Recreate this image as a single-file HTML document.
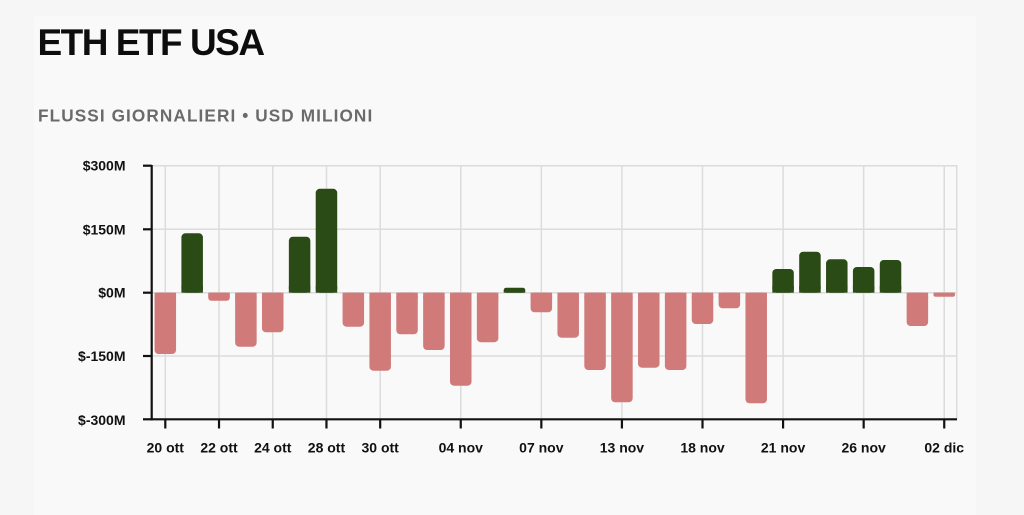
<!DOCTYPE html>
<html><head><meta charset="utf-8">
<style>
html,body{margin:0;padding:0;background:#f6f6f6;}
body{width:1024px;height:515px;overflow:hidden;position:relative;font-family:"Liberation Sans",Arial,sans-serif;}
.card{position:absolute;left:34px;top:16px;width:942px;height:499px;background:#f9f9f9;}
svg{position:absolute;left:0;top:0;}
</style></head>
<body>
<div class="card"></div>
<svg width="1024" height="515" viewBox="0 0 1024 515" xmlns="http://www.w3.org/2000/svg" font-family="Liberation Sans, Arial, sans-serif">
  <text x="37.5" y="55" font-size="37" font-weight="bold" fill="#0d0d0d" letter-spacing="-1.5">ETH ETF USA</text>
  <text x="38" y="121.7" font-size="17.2" font-weight="bold" fill="#6a6a6a" letter-spacing="1.1">FLUSSI GIORNALIERI • USD MILIONI</text>

  <!-- gridlines -->
  <g stroke="#dcdcdc" stroke-width="1.5">
    <line x1="152" y1="165.7" x2="957" y2="165.7"/>
    <line x1="152" y1="229.3" x2="957" y2="229.3"/>
    <line x1="152" y1="292.7" x2="957" y2="292.7"/>
    <line x1="152" y1="356" x2="957" y2="356"/>
    <line x1="165.3" y1="165" x2="165.3" y2="419"/>
    <line x1="219.02" y1="165" x2="219.02" y2="419"/>
    <line x1="272.74" y1="165" x2="272.74" y2="419"/>
    <line x1="326.46" y1="165" x2="326.46" y2="419"/>
    <line x1="380.18" y1="165" x2="380.18" y2="419"/>
    <line x1="460.76" y1="165" x2="460.76" y2="419"/>
    <line x1="541.34" y1="165" x2="541.34" y2="419"/>
    <line x1="621.92" y1="165" x2="621.92" y2="419"/>
    <line x1="702.5" y1="165" x2="702.5" y2="419"/>
    <line x1="783.08" y1="165" x2="783.08" y2="419"/>
    <line x1="863.66" y1="165" x2="863.66" y2="419"/>
    <line x1="944.24" y1="165" x2="944.24" y2="419"/>
    <line x1="956.7" y1="165" x2="956.7" y2="419"/>
  </g>

  <!-- positive bars -->
  <g fill="#2a4a16">
    <rect x="181.41" y="233.3" width="21.5" height="59.4" rx="4"/><rect x="181.41" y="286" width="21.5" height="6.7"/>
    <rect x="288.85" y="236.7" width="21.5" height="56" rx="4"/><rect x="288.85" y="286" width="21.5" height="6.7"/>
    <rect x="315.71" y="188.8" width="21.5" height="103.9" rx="4"/><rect x="315.71" y="286" width="21.5" height="6.7"/>
    <rect x="503.73" y="287.7" width="21.5" height="5" rx="2.5"/><rect x="503.73" y="290" width="21.5" height="2.7"/>
    <rect x="772.33" y="269" width="21.5" height="23.7" rx="4"/><rect x="772.33" y="286" width="21.5" height="6.7"/>
    <rect x="799.19" y="251.7" width="21.5" height="41" rx="4"/><rect x="799.19" y="286" width="21.5" height="6.7"/>
    <rect x="826.05" y="259.3" width="21.5" height="33.4" rx="4"/><rect x="826.05" y="286" width="21.5" height="6.7"/>
    <rect x="852.91" y="267" width="21.5" height="25.7" rx="4"/><rect x="852.91" y="286" width="21.5" height="6.7"/>
    <rect x="879.77" y="260" width="21.5" height="32.7" rx="4"/><rect x="879.77" y="286" width="21.5" height="6.7"/>
  </g>

  <!-- negative bars -->
  <g fill="#d07a7a">
    <rect x="154.55" y="292.7" width="21.5" height="61.3" rx="4"/><rect x="154.55" y="292.7" width="21.5" height="6"/>
    <rect x="208.27" y="292.7" width="21.5" height="8" rx="3"/><rect x="208.27" y="292.7" width="21.5" height="4"/>
    <rect x="235.13" y="292.7" width="21.5" height="54" rx="4"/><rect x="235.13" y="292.7" width="21.5" height="6"/>
    <rect x="261.99" y="292.7" width="21.5" height="39.6" rx="4"/><rect x="261.99" y="292.7" width="21.5" height="6"/>
    <rect x="342.57" y="292.7" width="21.5" height="34" rx="4"/><rect x="342.57" y="292.7" width="21.5" height="6"/>
    <rect x="369.43" y="292.7" width="21.5" height="78" rx="4"/><rect x="369.43" y="292.7" width="21.5" height="6"/>
    <rect x="396.29" y="292.7" width="21.5" height="41.6" rx="4"/><rect x="396.29" y="292.7" width="21.5" height="6"/>
    <rect x="423.15" y="292.7" width="21.5" height="57.3" rx="4"/><rect x="423.15" y="292.7" width="21.5" height="6"/>
    <rect x="450.01" y="292.7" width="21.5" height="93" rx="4"/><rect x="450.01" y="292.7" width="21.5" height="6"/>
    <rect x="476.87" y="292.7" width="21.5" height="49.5" rx="4"/><rect x="476.87" y="292.7" width="21.5" height="6"/>
    <rect x="530.59" y="292.7" width="21.5" height="19.6" rx="4"/><rect x="530.59" y="292.7" width="21.5" height="6"/>
    <rect x="557.45" y="292.7" width="21.5" height="45" rx="4"/><rect x="557.45" y="292.7" width="21.5" height="6"/>
    <rect x="584.31" y="292.7" width="21.5" height="77.3" rx="4"/><rect x="584.31" y="292.7" width="21.5" height="6"/>
    <rect x="611.17" y="292.7" width="21.5" height="109.6" rx="4"/><rect x="611.17" y="292.7" width="21.5" height="6"/>
    <rect x="638.03" y="292.7" width="21.5" height="75" rx="4"/><rect x="638.03" y="292.7" width="21.5" height="6"/>
    <rect x="664.89" y="292.7" width="21.5" height="77.3" rx="4"/><rect x="664.89" y="292.7" width="21.5" height="6"/>
    <rect x="691.75" y="292.7" width="21.5" height="31.3" rx="4"/><rect x="691.75" y="292.7" width="21.5" height="6"/>
    <rect x="718.61" y="292.7" width="21.5" height="15.6" rx="4"/><rect x="718.61" y="292.7" width="21.5" height="6"/>
    <rect x="745.47" y="292.7" width="21.5" height="110.6" rx="4"/><rect x="745.47" y="292.7" width="21.5" height="6"/>
    <rect x="906.63" y="292.7" width="21.5" height="33.3" rx="4"/><rect x="906.63" y="292.7" width="21.5" height="6"/>
    <rect x="933.49" y="292.7" width="21.5" height="4" rx="2"/><rect x="933.49" y="292.7" width="21.5" height="2"/>
  </g>

  <!-- axes -->
  <g stroke="#111" stroke-width="2.2" fill="none">
    <line x1="151.7" y1="165" x2="151.7" y2="420.4"/>
    <line x1="150.6" y1="419.3" x2="957" y2="419.3"/>
    <line x1="143" y1="165.7" x2="151.7" y2="165.7"/>
    <line x1="143" y1="229.3" x2="151.7" y2="229.3"/>
    <line x1="143" y1="292.7" x2="151.7" y2="292.7"/>
    <line x1="143" y1="356" x2="151.7" y2="356"/>
    <line x1="143" y1="419.3" x2="151.7" y2="419.3"/>
    <line x1="165.3" y1="419" x2="165.3" y2="428.5"/>
    <line x1="219.02" y1="419" x2="219.02" y2="428.5"/>
    <line x1="272.74" y1="419" x2="272.74" y2="428.5"/>
    <line x1="326.46" y1="419" x2="326.46" y2="428.5"/>
    <line x1="380.18" y1="419" x2="380.18" y2="428.5"/>
    <line x1="460.76" y1="419" x2="460.76" y2="428.5"/>
    <line x1="541.34" y1="419" x2="541.34" y2="428.5"/>
    <line x1="621.92" y1="419" x2="621.92" y2="428.5"/>
    <line x1="702.5" y1="419" x2="702.5" y2="428.5"/>
    <line x1="783.08" y1="419" x2="783.08" y2="428.5"/>
    <line x1="863.66" y1="419" x2="863.66" y2="428.5"/>
    <line x1="944.24" y1="419" x2="944.24" y2="428.5"/>
  </g>

  <!-- y labels -->
  <g font-size="14" font-weight="bold" fill="#111" text-anchor="end">
    <text x="125.5" y="170.7">$300M</text>
    <text x="125.5" y="234.3">$150M</text>
    <text x="125.5" y="297.7">$0M</text>
    <text x="125.5" y="361">$-150M</text>
    <text x="125.5" y="424.8">$-300M</text>
  </g>

  <!-- x labels -->
  <g font-size="14" font-weight="bold" fill="#111" text-anchor="middle">
    <text x="165.3" y="452.5">20 ott</text>
    <text x="219.02" y="452.5">22 ott</text>
    <text x="272.74" y="452.5">24 ott</text>
    <text x="326.46" y="452.5">28 ott</text>
    <text x="380.18" y="452.5">30 ott</text>
    <text x="460.76" y="452.5">04 nov</text>
    <text x="541.34" y="452.5">07 nov</text>
    <text x="621.92" y="452.5">13 nov</text>
    <text x="702.5" y="452.5">18 nov</text>
    <text x="783.08" y="452.5">21 nov</text>
    <text x="863.66" y="452.5">26 nov</text>
    <text x="944.24" y="452.5">02 dic</text>
  </g>
</svg>
</body></html>
